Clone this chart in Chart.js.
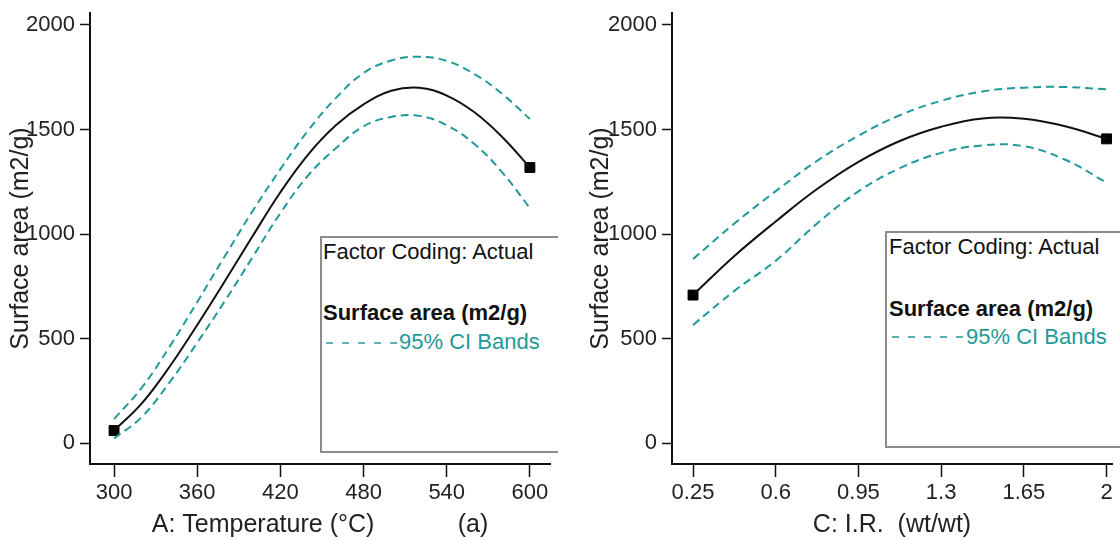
<!DOCTYPE html>
<html>
<head>
<meta charset="utf-8">
<script src="https://cdn.jsdelivr.net/npm/chart.js@4.4.0/dist/chart.umd.min.js"></script>
<style>
  body { margin: 0; background: #fff; width: 1120px; height: 540px; overflow: hidden; position: relative;
         font-family: "Liberation Sans", Arial, sans-serif; }
  .wrap { position: absolute; top: 0; height: 540px; overflow: hidden; }
  #wa { left: 0; width: 558px; }
  #wb { left: 560px; width: 560px; }
  .box { position: absolute; border: 2px solid #8c8c8c; background: #fff; width: 300px; height: 213px; }
  .box div { position: absolute; white-space: nowrap; line-height: 1; }
  .t1 { font-size: 22px; color: #111; }
  .t2 { font-size: 22px; font-weight: bold; color: #111; }
  .t3 { font-size: 22px; color: #1f9a98; }
  .box svg { position: absolute; }
</style>
</head>
<body>
<div class="wrap" id="wa">
  <canvas id="chartA" width="558" height="540"></canvas>
  <div class="box" style="left:320px; top:236px;">
    <div class="t1" style="left:1px; top:3px;">Factor Coding: Actual</div>
    <div class="t2" style="left:1px; top:64px;">Surface area (m2/g)</div>
    <svg width="80" height="6" style="left:4px; top:102px;"><line x1="0" y1="3" x2="71" y2="3" stroke="#1f9a98" stroke-width="1.5" stroke-dasharray="7,9"/></svg>
    <div class="t3" style="left:77px; top:93px;">95% CI Bands</div>
  </div>
</div>
<div class="wrap" id="wb">
  <canvas id="chartB" width="560" height="540"></canvas>
  <div class="box" style="left:325px; top:231px;">
    <div class="t1" style="left:2px; top:3px;">Factor Coding: Actual</div>
    <div class="t2" style="left:2px; top:65px;">Surface area (m2/g)</div>
    <svg width="80" height="6" style="left:5px; top:101px;"><line x1="0" y1="3" x2="71" y2="3" stroke="#1f9a98" stroke-width="1.5" stroke-dasharray="7,9"/></svg>
    <div class="t3" style="left:79px; top:93px;">95% CI Bands</div>
  </div>
</div>
<script>
// (a) temperature
const tempX     = [300, 320, 340, 360, 380, 400, 420, 440, 460, 480, 500, 520, 540, 560, 580, 600];
const tempFit   = [ 60, 190, 365, 565, 775, 990, 1200, 1380, 1520, 1620, 1685, 1700, 1662, 1582, 1464, 1318];
const tempUpper = [115, 265, 460, 675, 895, 1110, 1310, 1495, 1650, 1770, 1830, 1848, 1828, 1765, 1670, 1550];
const tempLower = [ 22, 125, 290, 480, 680, 890, 1100, 1280, 1410, 1515, 1560, 1565, 1520, 1430, 1295, 1124];
const tempEndX  = [300, 600];
const tempEndY  = [60, 1318];
const tempTicks = [300, 360, 420, 480, 540, 600];

// (c) impregnation ratio
const irX     = [0.25, 0.425, 0.6, 0.775, 0.95, 1.125, 1.3, 1.475, 1.65, 1.825, 2];
const irFit   = [708, 895, 1060, 1215, 1345, 1445, 1513, 1553, 1551, 1515, 1455];
const irUpper = [880, 1050, 1205, 1350, 1470, 1568, 1637, 1682, 1700, 1703, 1692];
const irLower = [565, 728, 872, 1050, 1204, 1315, 1388, 1424, 1420, 1355, 1246];
const irEndX  = [0.25, 2];
const irEndY  = [708, 1455];
const irTicks = [0.25, 0.6, 0.95, 1.3, 1.65, 2];

const yTicks = [0, 500, 1000, 1500, 2000];

const TEAL = '#1f9a98';
Chart.defaults.font.family = '"Liberation Sans", Arial, sans-serif';

function pts(xs, ys) { return xs.map((x, i) => ({ x: x, y: ys[i] })); }

function build(id, c) {
  const band = { showLine: true, borderColor: TEAL, borderWidth: 2, borderDash: [8, 5], pointRadius: 0, tension: 0.4, fill: false };
  return new Chart(document.getElementById(id), {
    type: 'scatter',
    data: {
      datasets: [
        Object.assign({ data: pts(c.x, c.upper) }, band),
        Object.assign({ data: pts(c.x, c.lower) }, band),
        { data: pts(c.x, c.fit), showLine: true, borderColor: '#111', borderWidth: 2, pointRadius: 0, tension: 0.4, fill: false },
        { data: pts(c.endX, c.endY), showLine: false, pointStyle: 'rect', pointRadius: 7, backgroundColor: '#000', borderColor: '#000', borderWidth: 1, clip: false }
      ]
    },
    options: {
      responsive: false,
      animation: false,
      layout: { padding: { left: c.padL, top: 13, right: c.padR, bottom: 0 } },
      plugins: { legend: { display: false }, tooltip: { enabled: false } },
      scales: {
        x: {
          type: 'linear', min: c.xMin, max: c.xMax,
          afterBuildTicks: s => { s.ticks = c.ticks.map(v => ({ value: v })); },
          afterFit: s => { s.height = 76; s.paddingLeft = 0; s.paddingRight = 0; },
          grid: { drawOnChartArea: false, drawTicks: true, tickLength: 13, tickColor: '#111', tickWidth: 1.5 },
          border: { color: '#111', width: 2 },
          ticks: { padding: 3, color: '#222', font: { size: 22 }, maxRotation: 0, autoSkip: false, callback: v => String(v) },
          title: { display: true, text: c.xTitle, color: '#222', font: { size: 25 }, padding: 0 }
        },
        y: {
          type: 'linear', min: -100, max: 2057,
          afterBuildTicks: s => { s.ticks = yTicks.map(v => ({ value: v })); },
          afterFit: s => { s.width = c.yWidth; s.paddingTop = 0; s.paddingBottom = 0; },
          grid: { drawOnChartArea: false, drawTicks: true, tickLength: 10, tickColor: '#111', tickWidth: 1.5 },
          border: { color: '#111', width: 2 },
          ticks: { padding: 5, color: '#222', font: { size: 22 }, callback: v => String(v) },
          title: { display: true, text: 'Surface area (m2/g)', color: '#222', font: { size: 25 }, padding: 0 }
        }
      }
    }
  });
}

build('chartA', {
  x: tempX, fit: tempFit, upper: tempUpper, lower: tempLower, endX: tempEndX, endY: tempEndY, ticks: tempTicks,
  xMin: 282.65, xMax: 614.5, padL: 6, padR: 2, yWidth: 84,
  xTitle: 'A: Temperature (°C)            (a)'
});

build('chartB', {
  x: irX, fit: irFit, upper: irUpper, lower: irLower, endX: irEndX, endY: irEndY, ticks: irTicks,
  xMin: 0.161, xMax: 2.023, padL: 26, padR: 0, yWidth: 86,
  xTitle: 'C: I.R.  (wt/wt)'
});
</script>
</body>
</html>
